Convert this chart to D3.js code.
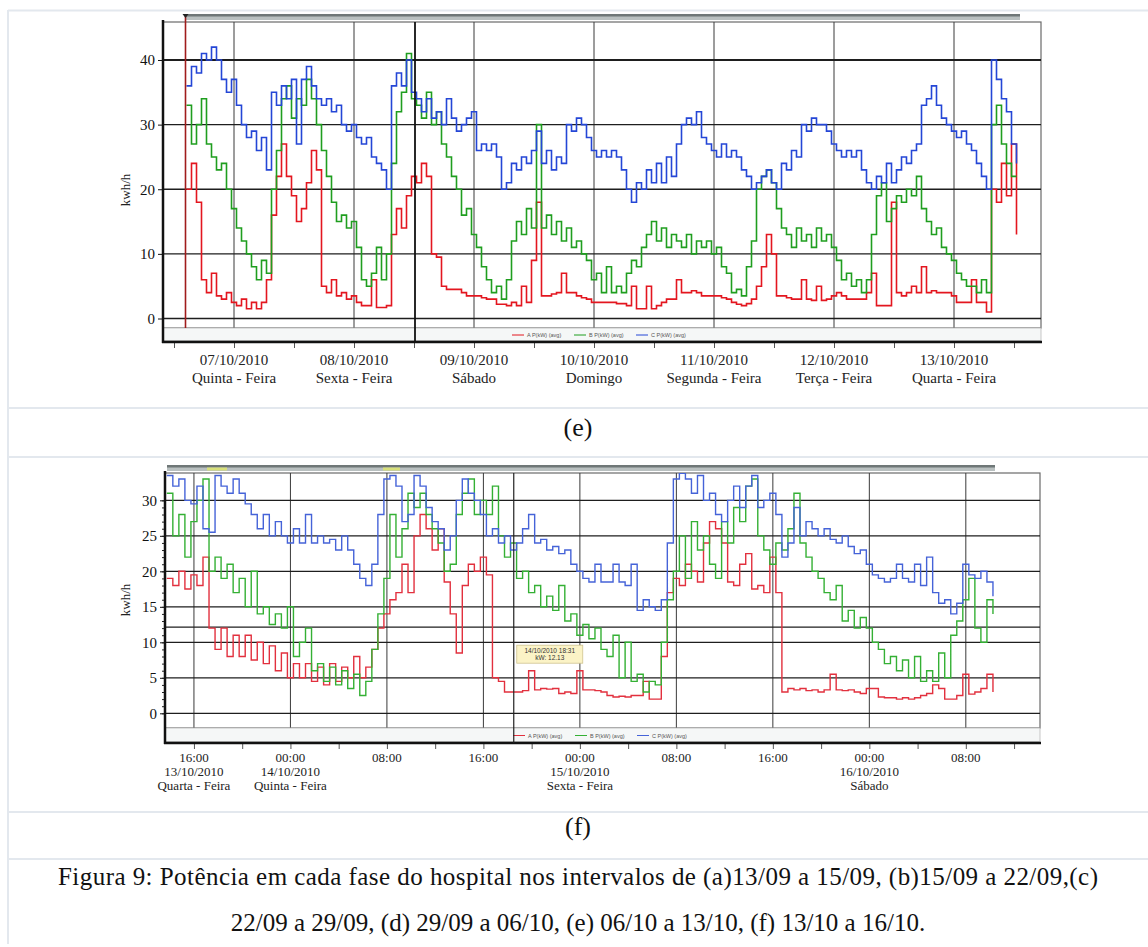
<!DOCTYPE html>
<html><head><meta charset="utf-8">
<script src="https://cdn.jsdelivr.net/npm/d3@7"></script>
<style>body{margin:0;background:#fff}svg{display:block}</style>
</head><body><svg id="c" width="1148" height="947"></svg>
<script>
// ---------------- DATA ----------------
// Panel (e): hourly samples from 06/10/2010 14:30
const eStart = new Date(2010, 9, 6, 14, 30);
const eStepMin = 60;
const eA = [20,24,18,6,4,7,3.5,3,4,2.5, 2,3,1.5,2.5,1.5,2.5,6,16,22,27, 22,19,15,17,21,26,23,5,4,6,
 3.5,4,3,3.5,2.5,2,2,6,1.7,1.7, 2,13,17,14,19,22,21,24,22,10, 9.5,5,4.5,4.5,4.5,4,3.5,3.5,3.5,3.2,
 3,3,2.2,2.2,2,2.5,2,5,2.5,9, 18,3.5,3.5,3.8,4,7,4,4,3.5,3.2, 3,2.5,2.5,2.5,2.5,2.5,2.3,2.3,2,5,
 1.5,1.5,5,1.5,2,2.5,3,3,6,4, 4,4.3,4,3.5,3.5,3.5,3.5,3.2,3,2.5, 2.2,2,2.3,3,5,8,13,10,3.5,3.5,
 3.2,3,3,6,3,2.8,5,2.8,3,3.5, 4,3.5,3,3,3,3,4,7,2,2, 2,18,4,3.5,4,5,4,8,4,4.3,
 4,4,4,3.5,2.5,2.5,2.5,6,2.5,2.5, 1,20,18,24,19,27,13];
const eB = [33,27,30,34,27,25,23,24,20,17, 14,12,10,8,6,9,7,20,26,34, 36,31,34,33,37,34,30,26,22,18,
 15,16,14,15,11,6,5,7,11,6, 10,24,32,35,41,34,33,31,35,30, 32,27,25,22,20,16,17,13,11,8,
 6,4,5,3,6,12,15,13,17,14, 30,14,16,13,15,12,14,11,12,10, 9,6,7,4,8,4,5,4,7,9,
 8,11,13,15,12,14,11,13,12,11, 13,10,12,11,12,10,11,8,7,4, 4.5,3.5,8,12,20,22,23,21,17,14,
 13,11,14,12,13,11,14,12,13,11, 9,6,7,5,6,4,6,13,19,21, 15,17,19,18,20,19,22,17,15,13,
 14,11,10,9,7,6,5,5,4,6, 4,30,33,27,24,22,22];
const eC = [36,39,38,41,40,42,40,37,35,37, 33,30,28,29,26,28,23,35,33,36, 34,37,27,37,39,36,34,33,34,32,
 33,30,29,30,28,27,28,25,24,23, 20,36,38,36,40,35,34,32,34,31, 32,30,34,31,29,30,31,32,26,27,
 26,27,25,20,21,24,23,25,24,26, 29,24,26,23,25,24,30,29,31,30, 28,26,25,26,25,26,25,23,20,18,
 21,20,23,21,24,21,25,22,27,30, 31,30,32,28,27,26,25,27,25,26, 25,23,22,20,21,22,23,21,20,24,
 23,26,25,30,29,31,30,30,29,27, 26,25,26,25,26,23,21,20,22,21, 24,21,23,25,24,26,27,33,34,36,
 33,31,30,29,28,29,27,26,24,22, 20,40,37,34,32,27,24];
const eDates = ["07/10/2010","08/10/2010","09/10/2010","10/10/2010","11/10/2010","12/10/2010","13/10/2010"];
const eWeekdays = ["Quinta - Feira","Sexta - Feira","Sábado","Domingo","Segunda - Feira","Terça - Feira","Quarta - Feira"];
const eYTicks = [0,10,20,30,40];

// Panel (f): half-hourly samples from 13/10/2010 13:45
const fStart = new Date(2010, 9, 13, 13, 45);
const fStepMin = 30;
const fA = [19,18,20,17.5,19.5,18,22,12,9,12, 8,11,8,11,7.5,10,7,9.5,6,8.5, 5,7,5,7,4.5,6.5,4,7,4.5,6.5,
 5,8,5,6.5,9,12,14,16,17,21, 17,25,28,26,23,26,18.5,14,8.5,18, 21,20,22,19.5,5,4.5,3,3,3,3.2,
 6,3.3,3.5,3.4,3.5,2.8,3,2.8,6,3.3, 3.3,3.2,3,2.5,2.3,2.4,2.3,2.5,2.5,4.5, 2,2,8,17,19,18,21,20,18.5,24,
 27,26,24,18.5,18,21,22.5,17.5,18,17, 22,17,3,3.5,3.3,3.5,3.2,3.3,3,3.3, 5.5,3.3,3.2,3.3,3,2.8,3.5,3.5,2.3,2.2,
 2.2,2,2.2,2,2.2,2.5,2.8,4,3.5,2, 2,2.5,5.5,2.7,3,3.5,5.5,3];
const fB = [31,25,28,22,27,30,33,20,22,19, 21,17,19,15,20,14,15,12.5,14,12, 15,8,10,12,6,7,4.5,6.5,4,6,
 3.5,5.5,2.5,4.5,9,14,19,28,22,26, 31,29,31,28,26,24,20,21,28,31, 33,28,30,28,32,25,22,24,19,20,
 17,18,15,16.5,14.5,18,13,14,11,12.5, 10.5,12,9,8,11,5,10,4.5,5.5,3, 4.5,4,10,16,20,25,19,27,23,25,
 21,19,27,24,29,27,32,33,25,23, 21,24,23,26,31,24,22,20,19,17, 16,18,13,14.5,12,13.5,12,10,9,7,
 8,6,7.5,5,8,4.5,6,4.5,8.5,5, 11,13,16,19,12,10,16,14];
const fC = [33.5,32,33,30,29.5,32,26,25.5,33.5,32, 31,33,31,29.5,28,26,28,25,27,25, 24,26,24,28,24,25,24,24.5,23,25,
 23,21,19,18,21,28,33,33.5,32,27, 28,33.5,32,29,27,26,23,25,30,33, 31,30,28,25,26,24,25,23,24,26,
 28,24,24.5,23,23.5,22.5,23,21,20,19, 18.5,21,18.5,18.5,21,18.5,18,21,14.5,16, 15,14.5,16,24,33,33.8,33,31,33.5,30,
 31,28,27,30,32,29,32,33.5,29,30, 31,28,22,24,29,25,27,26,25,26, 24.5,24,25,23.5,22.5,23,21,19.5,19,18.5,
 19,21,19,18.5,21,18,22,17,15.5,16, 14,15.5,21,19.5,19,20,18.5,16.5];
const fTimeLabels = ["16:00","00:00","08:00","16:00","00:00","08:00","16:00","00:00","08:00"];
const fDates = ["13/10/2010","14/10/2010","","","15/10/2010","","","16/10/2010",""];
const fWeekdays = ["Quarta - Feira","Quinta - Feira","","","Sexta - Feira","","","Sábado",""];
const fYTicks = [0,5,10,15,20,25,30];
const fCursorTime = new Date(2010, 9, 14, 18, 31);
const fCursorValue = 12.13;

const seriesNames = ["A P(kW) (avg)","B P(kW) (avg)","C P(kW) (avg)"];

// ---------------- DRAWING ----------------
const svg = d3.select("#c");
const serif = "'Liberation Serif','Times New Roman',serif";
const sans = "'Liberation Sans',Arial,sans-serif";

// page/table borders
const bc = "#e3e8ee";
[10.5, 408, 457, 812, 859].forEach(yy =>
  svg.append("line").attr("x1", 8).attr("x2", 1148).attr("y1", yy).attr("y2", yy)
    .attr("stroke", bc).attr("stroke-width", 2));
svg.append("line").attr("x1", 8).attr("x2", 8).attr("y1", 10).attr("y2", 944)
  .attr("stroke", bc).attr("stroke-width", 2);

function drawPanel(p) {
  const x = d3.scaleTime().domain(p.xDomain).range([p.left, p.right]);
  const y = d3.scaleLinear().domain(p.yDomain).range([p.bottom, p.top]);
  const g = svg.append("g");
  const clipId = "clip" + p.id;
  svg.append("clipPath").attr("id", clipId).append("rect")
    .attr("x", p.left).attr("y", p.top).attr("width", p.right - p.left).attr("height", p.bottom - p.top);

  // top scroll bar
  g.append("rect").attr("x", p.barX0).attr("y", p.barY).attr("width", p.barX1 - p.barX0).attr("height", 6)
    .attr("fill", "#b9c0c0");
  g.append("rect").attr("x", p.barX0).attr("y", p.barY).attr("width", p.barX1 - p.barX0).attr("height", 2.5)
    .attr("fill", "#6f7777");
  (p.barMarks || []).forEach(m => g.append("rect").attr("x", m[0]).attr("y", p.barY + 2.5).attr("width", m[1] - m[0])
    .attr("height", 3).attr("fill", "#d8e07a"));

  // frame
  g.append("rect").attr("x", p.left).attr("y", p.top).attr("width", p.right - p.left).attr("height", p.bottom - p.top)
    .attr("fill", "#fff").attr("stroke", "#6a6a6a").attr("stroke-width", 1.2);

  // vertical grid
  p.vGrid.forEach(t => g.append("line").attr("x1", x(t)).attr("x2", x(t)).attr("y1", p.top).attr("y2", p.bottom)
    .attr("stroke", "#3a3a3a").attr("stroke-width", 1));
  // horizontal grid
  p.yGrid.forEach(v => g.append("line").attr("x1", p.left).attr("x2", p.right).attr("y1", y(v)).attr("y2", y(v))
    .attr("stroke", "#1e1e1e").attr("stroke-width", v === p.heavyGrid ? 2 : 1.3));

  // series
  const times = p.series[0].values.map((d, i) => d3.timeMinute.offset(p.start, i * p.stepMin));
  const sg = g.append("g").attr("clip-path", `url(#${clipId})`);
  p.series.forEach(s => {
    const line = d3.line().x((d, i) => x(times[i])).y(d => y(d)).curve(d3.curveStepAfter);
    sg.append("path").datum(s.values).attr("d", line).attr("fill", "none")
      .attr("stroke", s.color).attr("stroke-width", p.lineWidth);
  });

  // legend strip
  g.append("rect").attr("x", p.left).attr("y", p.bottom).attr("width", p.right - p.left).attr("height", p.axisY - p.bottom - 1.5)
    .attr("fill", "#f5f7f7").attr("stroke", "#b8b8b8").attr("stroke-width", 0.8);
  const ly = p.bottom + (p.axisY - p.bottom) / 2;
  let lx = p.legendX;
  p.series.forEach((s, i) => {
    g.append("line").attr("x1", lx).attr("x2", lx + 12).attr("y1", ly).attr("y2", ly).attr("stroke", s.color).attr("stroke-width", 1);
    g.append("text").attr("x", lx + 15).attr("y", ly + 2).attr("font-family", sans).attr("font-size", 5.5)
      .attr("fill", "#555").text(seriesNames[i]);
    lx += 62;
  });

  // bottom axis (ticks)
  const xAxis = d3.axisBottom(x).tickValues(p.xTicks).tickSize(6).tickFormat("");
  const ax = g.append("g").attr("transform", `translate(0,${p.axisY})`).call(xAxis);
  ax.select(".domain").remove();
  ax.selectAll(".tick line").attr("stroke", "#555").attr("stroke-width", 1);
  g.append("line").attr("x1", p.left - 1).attr("x2", p.right + 1).attr("y1", p.axisY).attr("y2", p.axisY)
    .attr("stroke", "#111").attr("stroke-width", 2.5);

  // left axis
  const yAxis = d3.axisLeft(y).tickValues(p.yTicks).tickSize(5).tickPadding(3).tickFormat(d3.format("d"));
  const ay = g.append("g").attr("transform", `translate(${p.left},0)`).call(yAxis);
  ay.select(".domain").remove();
  ay.selectAll(".tick line").attr("stroke", "#111");
  ay.selectAll("text").attr("font-family", serif).attr("font-size", 15).attr("fill", "#111");
  if (p.minorY) {
    const yMinor = d3.axisLeft(y).tickValues(d3.range(p.yTicks[0], p.yTicks[p.yTicks.length - 1] + 1, 1))
      .tickSize(3).tickFormat("");
    const am = g.append("g").attr("transform", `translate(${p.left},0)`).call(yMinor);
    am.select(".domain").remove();
    am.selectAll(".tick line").attr("stroke", "#222");
  }
  g.append("line").attr("x1", p.left).attr("x2", p.left).attr("y1", p.top - 2).attr("y2", p.axisY + 1)
    .attr("stroke", "#111").attr("stroke-width", 2.5);

  // y title
  g.append("text").attr("transform", `translate(${p.yTitleX},${p.yTitleY}) rotate(-90)`)
    .attr("text-anchor", "middle").attr("font-family", serif).attr("font-size", 13).attr("fill", "#222").text("kwh/h");

  // x labels
  p.labels.forEach(L => {
    L.lines.forEach((txt, k) => {
      if (!txt) return;
      g.append("text").attr("x", x(L.t)).attr("y", p.labelY + k * p.labelDY).attr("text-anchor", "middle")
        .attr("font-family", serif).attr("font-size", p.labelSize).attr("fill", "#222").text(txt);
    });
  });
  return {x, y, g};
}

// Panel (e)
const eDays = eDates.map((d, i) => new Date(2010, 9, 7 + i));
const pe = drawPanel({
  id: "e", left: 163, right: 1041, top: 22, bottom: 328, axisY: 342,
  xDomain: [new Date(2010, 9, 6, 9, 48), new Date(2010, 9, 13, 17, 24)],
  yDomain: [-1.47, 45.88], yTicks: eYTicks, yGrid: eYTicks, heavyGrid: 40,
  vGrid: eDays, xTicks: d3.timeHour.every(12).range(new Date(2010, 9, 6, 12), new Date(2010, 9, 13, 13)),
  start: eStart, stepMin: eStepMin, lineWidth: 1.6,
  series: [{values: eA, color: "#e3161f"}, {values: eB, color: "#1f9e1f"}, {values: eC, color: "#2446d6"}],
  barX0: 185, barX1: 1020, barY: 14, legendX: 512,
  yTitleX: 130, yTitleY: 190,
  labels: eDays.map((t, i) => ({t, lines: [eDates[i], eWeekdays[i]]})),
  labelY: 365, labelDY: 18, labelSize: 15
});
// start marker & cursor in (e)
pe.g.append("line").attr("x1", pe.x(eStart) - 1).attr("x2", pe.x(eStart) - 1).attr("y1", 15).attr("y2", 328)
  .attr("stroke", "#a01c1c").attr("stroke-width", 1.6);
pe.g.append("path").attr("d", `M${pe.x(eStart) - 4},14 L${pe.x(eStart) + 2},14 L${pe.x(eStart) - 1},18 Z`).attr("fill", "#222");
const eCursor = new Date(2010, 9, 8, 12, 12);
pe.g.append("line").attr("x1", pe.x(eCursor)).attr("x2", pe.x(eCursor)).attr("y1", 22).attr("y2", 342)
  .attr("stroke", "#111").attr("stroke-width", 1.8);

// Panel (f)
const fLabelTimes = d3.timeHour.every(8).range(new Date(2010, 9, 13, 16), new Date(2010, 9, 16, 9));
const pf = drawPanel({
  id: "f", left: 165, right: 1040, top: 473, bottom: 728, axisY: 743,
  xDomain: [new Date(2010, 9, 13, 13, 36), new Date(2010, 9, 16, 14, 9)],
  yDomain: [-2.07, 33.85], yTicks: fYTicks, yGrid: fYTicks.concat([fCursorValue]), heavyGrid: -1, minorY: true,
  vGrid: fLabelTimes, xTicks: d3.timeHour.every(4).range(new Date(2010, 9, 13, 16), new Date(2010, 9, 16, 13)),
  start: fStart, stepMin: fStepMin, lineWidth: 1.4,
  series: [{values: fA, color: "#e2303e"}, {values: fB, color: "#34b034"}, {values: fC, color: "#4563d8"}],
  barX0: 167, barX1: 995, barY: 465, legendX: 513, barMarks: [[207, 227], [383, 400]],
  yTitleX: 130, yTitleY: 600,
  labels: fLabelTimes.map((t, i) => ({t, lines: [fTimeLabels[i], fDates[i], fWeekdays[i]]})),
  labelY: 762, labelDY: 14, labelSize: 13
});
// cursor + tooltip in (f)
const cx = pf.x(fCursorTime), cy = pf.y(fCursorValue);
pf.g.append("line").attr("x1", cx).attr("x2", cx).attr("y1", 473).attr("y2", 743).attr("stroke", "#222").attr("stroke-width", 1.2);
pf.g.append("rect").attr("x", cx + 3).attr("y", cy + 18).attr("width", 66).attr("height", 18)
  .attr("fill", "#fbf3c6").attr("stroke", "#cfc38f").attr("stroke-width", 0.8);
pf.g.append("text").attr("x", cx + 36).attr("y", cy + 25.5).attr("text-anchor", "middle").attr("font-family", sans)
  .attr("font-size", 6.5).attr("fill", "#333").text("14/10/2010 18:31");
pf.g.append("text").attr("x", cx + 36).attr("y", cy + 33).attr("text-anchor", "middle").attr("font-family", sans)
  .attr("font-size", 6.5).attr("fill", "#333").text("kW: " + fCursorValue.toFixed(2));

// captions
svg.append("text").attr("x", 578).attr("y", 436).attr("text-anchor", "middle").attr("font-family", serif)
  .attr("font-size", 26).attr("fill", "#111").text("(e)");
svg.append("text").attr("x", 578).attr("y", 835).attr("text-anchor", "middle").attr("font-family", serif)
  .attr("font-size", 26).attr("fill", "#111").text("(f)");
svg.append("text").attr("x", 578).attr("y", 885).attr("text-anchor", "middle").attr("font-family", serif)
  .attr("font-size", 25).attr("fill", "#111").attr("textLength", 1040).attr("lengthAdjust", "spacing")
  .text("Figura 9: Potência em cada fase do hospital nos intervalos de (a)13/09 a 15/09, (b)15/09 a 22/09,(c)");
svg.append("text").attr("x", 578).attr("y", 931).attr("text-anchor", "middle").attr("font-family", serif)
  .attr("font-size", 25).attr("fill", "#111")
  .text("22/09 a 29/09, (d) 29/09 a 06/10, (e) 06/10 a 13/10, (f) 13/10 a 16/10.");
</script></body></html>
